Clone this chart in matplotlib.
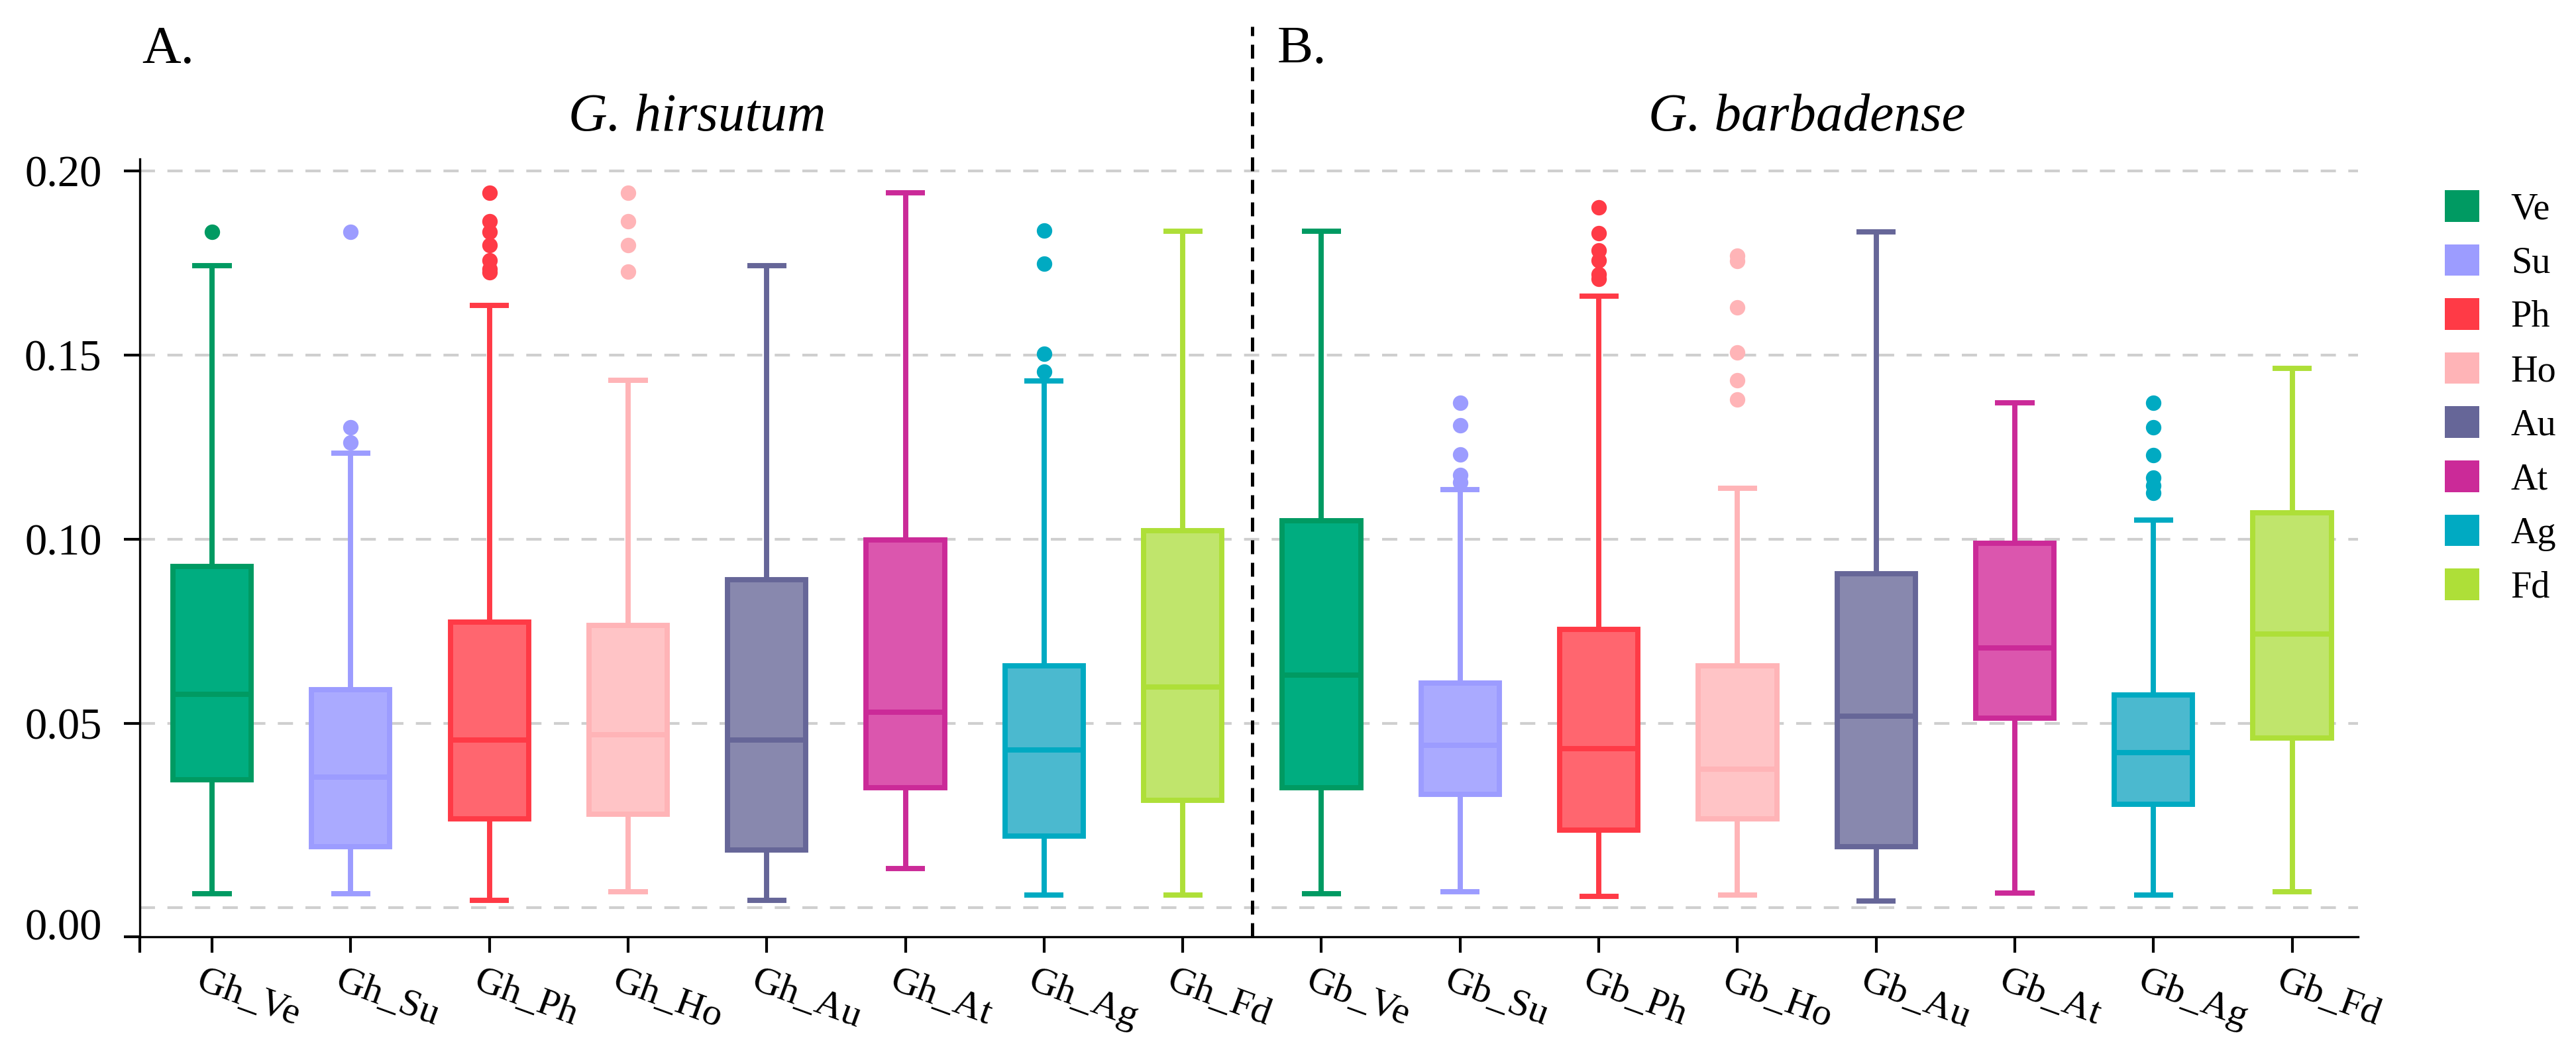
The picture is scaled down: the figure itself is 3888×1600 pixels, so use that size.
import matplotlib
matplotlib.use("Agg")
import matplotlib.pyplot as plt
from matplotlib.patches import Patch
from matplotlib.transforms import blended_transform_factory, ScaledTranslation

plt.rcParams['font.family'] = ['Liberation Serif', 'DejaVu Serif']

# --- data ---
groups = ["Ve", "Su", "Ph", "Ho", "Au", "At", "Ag", "Fd"]
tick_labels = ["Gh_Ve", "Gh_Su", "Gh_Ph", "Gh_Ho", "Gh_Au", "Gh_At", "Gh_Ag", "Gh_Fd",
               "Gb_Ve", "Gb_Su", "Gb_Ph", "Gb_Ho", "Gb_Au", "Gb_At", "Gb_Ag", "Gb_Fd"]
panel_titles = ["G. hirsutum", "G. barbadense"]
panel_tags = ["A.", "B."]

edge_colors = ["#009A62", "#9C9CFF", "#FF3A46", "#FFB4B7",
               "#666698", "#CB2A98", "#00AAC2", "#AEDF38"]
fill_colors = ["#00AD80", "#AAAAFF", "#FF666F", "#FFC4C6",
               "#8888AE", "#DB56AE", "#4BB9CF", "#C0E56C"]

medians = [0.0580, 0.0354, 0.0455, 0.0469, 0.0455, 0.0530, 0.0428, 0.0598,
           0.0632, 0.0440, 0.0431, 0.0376, 0.0520, 0.0705, 0.0420, 0.0742]
q1 = [0.0347, 0.0165, 0.0241, 0.0253, 0.0156, 0.0325, 0.0194, 0.0292,
      0.0326, 0.0307, 0.0210, 0.0241, 0.0165, 0.0514, 0.0280, 0.0461]
q3 = [0.0926, 0.0592, 0.0775, 0.0766, 0.0891, 0.0998, 0.0657, 0.1023,
      0.1051, 0.0609, 0.0755, 0.0656, 0.0906, 0.0989, 0.0577, 0.1072]
whislo = [0.0038, 0.0038, 0.0020, 0.0044, 0.0020, 0.0106, 0.0035, 0.0035,
          0.0038, 0.0043, 0.0030, 0.0034, 0.0018, 0.0040, 0.0034, 0.0043]
whishi = [0.1743, 0.1234, 0.1635, 0.1431, 0.1743, 0.1940, 0.1430, 0.1836,
          0.1836, 0.1135, 0.1659, 0.1139, 0.1835, 0.1370, 0.1052, 0.1463]
fliers = [
    [0.1835],
    [0.1835, 0.1304, 0.1263],
    [0.1940, 0.1863, 0.1835, 0.1799, 0.1757, 0.1734, 0.1725],
    [0.1940, 0.1863, 0.1799, 0.1727],
    [],
    [],
    [0.1837, 0.1748, 0.1503, 0.1455],
    [],
    [],
    [0.1371, 0.1309, 0.1230, 0.1174, 0.1155],
    [0.1900, 0.1830, 0.1783, 0.1757, 0.1720, 0.1707],
    [0.1769, 0.1755, 0.1630, 0.1507, 0.1432, 0.1379],
    [],
    [],
    [0.1370, 0.1304, 0.1229, 0.1167, 0.1145, 0.1126],
    [],
]
grid_values = [0.0, 0.05, 0.10, 0.15, 0.20]
ytick_labels = ["0.00", "0.05", "0.10", "0.15", "0.20"]

# --- figure ---
W, H, DPI = 3888, 1600, 300
fig = plt.figure(figsize=(W / DPI, H / DPI), dpi=DPI)
ax = fig.add_axes([211 / W, 186 / H, (3559 - 211) / W, (1414 - 240) / H])

ylo, yhi = -0.0079, 0.2032
xlo, xhi = -0.521, 15.475

stats = []
for i, lab in enumerate(tick_labels):
    stats.append(dict(med=medians[i], q1=q1[i], q3=q3[i], whislo=whislo[i],
                      whishi=whishi[i], fliers=fliers[i], label=lab))

positions = list(range(len(tick_labels)))
lw = 1.9
bp = ax.bxp(stats, positions=positions, widths=0.565, patch_artist=True,
            showfliers=True, manage_ticks=False)

for i in range(len(tick_labels)):
    ec = edge_colors[i % 8]
    fc = fill_colors[i % 8]
    box = bp['boxes'][i]
    box.set_facecolor(fc)
    box.set_edgecolor(ec)
    box.set_linewidth(lw)
    box.set_zorder(3)
    for ln in bp['whiskers'][2 * i:2 * i + 2] + bp['caps'][2 * i:2 * i + 2]:
        ln.set_color(ec)
        ln.set_linewidth(lw)
        ln.set_solid_capstyle('butt')
        ln.set_zorder(2)
    med = bp['medians'][i]
    med.set_color(ec)
    med.set_linewidth(lw)
    med.set_zorder(4)
    fl = bp['fliers'][i]
    fl.set_marker('o')
    fl.set_markersize(5.6)
    fl.set_markerfacecolor(ec)
    fl.set_markeredgecolor('none')
    fl.set_zorder(3)

# dashed grid lines
for gv in grid_values:
    ax.axhline(gv, color='#CFCFCF', lw=1.0, ls=(0, (5.5, 4.5)), zorder=0)

# divider between the two species
ax.axvline(7.5, ymin=0, ymax=1.17, color='black', lw=1.2,
           ls=(0, (4.2, 2.6)), clip_on=False, zorder=5)

ax.set_xlim(xlo, xhi)
ax.set_ylim(ylo, yhi)

for s in ['top', 'right']:
    ax.spines[s].set_visible(False)
for s in ['left', 'bottom']:
    ax.spines[s].set_linewidth(0.8)
    ax.spines[s].set_color('black')

ax.set_yticks([ylo] + grid_values[1:])
ax.set_yticklabels(ytick_labels)
ax.tick_params(axis='y', length=5.8, width=1.0, pad=8, labelsize=16)
# the 0.00 label sits a little above the bottom spine in the reference
lab0 = ax.get_yticklabels()[0]
lab0.set_transform(lab0.get_transform() + ScaledTranslation(0, 19 / DPI, fig.dpi_scale_trans))

ax.set_xticks(positions)
ax.set_xticklabels(tick_labels, rotation=-20, ha='left', va='top',
                   rotation_mode='anchor')
ax.set_xticks([xlo], minor=True)
ax.tick_params(axis='x', which='both', length=5.8, width=1.0, pad=4, labelsize=14)
for t in ax.get_xticklabels():
    t.set_transform(t.get_transform() + ScaledTranslation(-12 / DPI, 0, fig.dpi_scale_trans))

# panel titles and tags
bt = blended_transform_factory(ax.transData, fig.transFigure)
ax.text(3.5, 1 - 178 / H, panel_titles[0], transform=bt, ha='center', va='center',
        fontsize=19.5, style='italic')
ax.text(11.5, 1 - 178 / H, panel_titles[1], transform=bt, ha='center', va='center',
        fontsize=19.5, style='italic')
fig.text(214 / W, 1 - 75 / H, panel_tags[0], ha='left', va='center', fontsize=19.5)
fig.text(1928 / W, 1 - 75 / H, panel_tags[1], ha='left', va='center', fontsize=19.5)

# legend
handles = [Patch(facecolor=edge_colors[k], edgecolor='none', label=g)
           for k, g in enumerate(groups)]
ax.legend(handles=handles, loc='upper left',
          bbox_to_anchor=(3690 / W, 1 - 287 / H), bbox_transform=fig.transFigure,
          frameon=False, fontsize=13.5, handlelength=0.925, handleheight=0.925,
          handletextpad=0.85, labelspacing=0.47, borderpad=0, borderaxespad=0)

fig.savefig("out.png", dpi=DPI)
